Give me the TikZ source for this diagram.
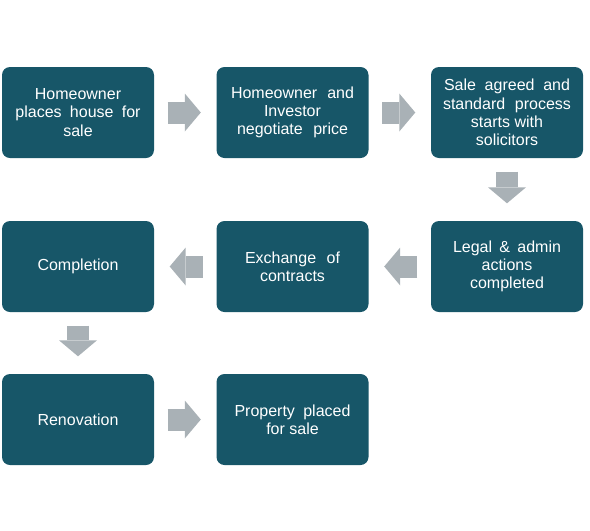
\documentclass[tikz,border=0pt]{standalone}
\usepackage{fontspec}
\setmainfont{Liberation Sans}
\usetikzlibrary{arrows.meta}
\definecolor{boxteal}{RGB}{23,86,104}
\definecolor{arrowgray}{RGB}{169,177,182}
\newcommand{\spreadline}[2]{\makebox[#1pt][s]{#2}}

\begin{document}
\begin{tikzpicture}
        [x=1pt, y=-1pt,
        step box/.style={rectangle, rounded corners=8pt, fill=boxteal, text=white,
            minimum width=152pt, minimum height=91pt, inner sep=0pt,
            align=center, font=\fontsize{16}{18.3}\selectfont},
        flow/.style={arrowgray, line width=22pt,
            -{Triangle[length=16pt, width=38pt, line width=0pt]}},
        across/.style={flow, shorten <=13.5pt, shorten >=15.5pt},
        down/.style={flow, shorten <=13.5pt, shorten >=17.5pt}]

        \useasboundingbox (0,0) rectangle (590,531);

        % first row
        \node[step box] (sale) at (78,112.5)
            {Homeowner\\\spreadline{125}{places house for}\\sale};
        \node[step box] (negotiate) at (292.5,112.5)
            {\spreadline{123}{Homeowner and}\\Investor\\\spreadline{111}{negotiate price}};
        \node[step box] (agreed) at (507,112.5)
            {\spreadline{126}{Sale agreed and}\\\spreadline{128}{standard process}\\starts with\\solicitors};

        % second row
        \node[step box] (completion) at (78,266.5) {Completion};
        \node[step box] (exchange) at (292.5,266.5)
            {\spreadline{95}{Exchange of}\\contracts};
        \node[step box] (legal) at (507,266.5)
            {\spreadline{108}{Legal \& admin}\\actions\\completed};

        % third row
        \node[step box] (renovation) at (78,419.5) {Renovation};
        \node[step box] (resale) at (292.5,419.5)
            {\spreadline{116}{Property placed}\\for sale};

        % block arrows
        \draw[across] (sale.east) -- (negotiate.west);
        \draw[across] (negotiate.east) -- (agreed.west);
        \draw[down] (agreed.south) -- (legal.north);
        \draw[across] (legal.west) -- (exchange.east);
        \draw[across] (exchange.west) -- (completion.east);
        \draw[down] (completion.south) -- (renovation.north);
        \draw[across] (renovation.east) -- (resale.west);

\end{tikzpicture}
\end{document}
